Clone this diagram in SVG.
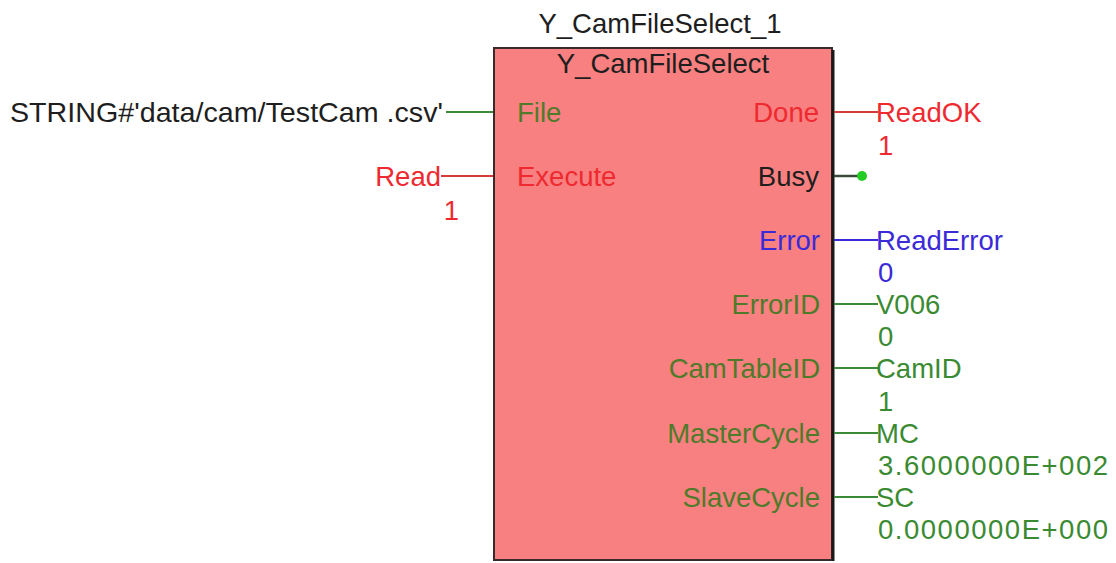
<svg xmlns="http://www.w3.org/2000/svg" width="1116" height="563" viewBox="0 0 1116 563">
<style>
text{font-family:"Liberation Sans",Arial,sans-serif;font-size:27.5px;}
.blk{fill:#1e1e1e}
.red{fill:#ee2a30}
.grn{fill:#3a8a32}
.gin{fill:#4f7a2a}
.blu{fill:#3a2ad8}
.r{text-anchor:end}
.lr{stroke:#d83a3a;stroke-width:2}
.lg{stroke:#3a8a3a;stroke-width:2}
.lb{stroke:#3a2ad8;stroke-width:2}
.lk{stroke:#3a4a3a;stroke-width:2.5}
</style>
<rect width="1116" height="563" fill="#fff"/>
<g id="block">
<text class="blk" x="660" y="33" text-anchor="middle">Y_CamFileSelect_1</text>
<rect x="494" y="48" width="338" height="512" fill="#f98080" stroke="#3a2a2a" stroke-width="2"/>
<line x1="833" y1="50" x2="833" y2="561" stroke="#1a1a1a" stroke-width="3"/>
<text class="blk" x="663" y="73" text-anchor="middle">Y_CamFileSelect</text>
<text class="gin" x="517" y="122">File</text>
<text class="red" x="517" y="186">Execute</text>
<text class="red r" x="819" y="122">Done</text>
<text class="blk r" x="819" y="186">Busy</text>
<text class="blu r" x="820" y="250">Error</text>
<text class="gin r" x="820" y="314">ErrorID</text>
<text class="gin r" x="820" y="378">CamTableID</text>
<text class="gin r" x="820" y="443">MasterCycle</text>
<text class="gin r" x="820" y="507">SlaveCycle</text>
</g>
<g id="connectors">
<line class="lg" x1="446" y1="112" x2="493" y2="112"/>
<line class="lr" x1="441" y1="176" x2="493" y2="176"/>
<line class="lr" x1="834" y1="112" x2="878" y2="112"/>
<line class="lk" x1="834" y1="176" x2="862" y2="176"/>
<circle cx="862" cy="176" r="5" fill="#22cc22"/>
<line class="lb" x1="834" y1="240" x2="878" y2="240"/>
<line class="lg" x1="834" y1="304" x2="878" y2="304"/>
<line class="lg" x1="834" y1="368" x2="878" y2="368"/>
<line class="lg" x1="834" y1="433" x2="878" y2="433"/>
<line class="lg" x1="834" y1="497" x2="878" y2="497"/>
</g>
<g id="inputs">
<text class="blk" x="10" y="122" textLength="433" lengthAdjust="spacingAndGlyphs">STRING#'data/cam/TestCam .csv'</text>
<text class="red r" x="441" y="186">Read</text>
<text class="red r" x="459" y="220">1</text>
</g>
<g id="outputs">
<text class="red" x="876" y="122">ReadOK</text>
<text class="red" x="878" y="155">1</text>
<text class="blu" x="876" y="250">ReadError</text>
<text class="blu" x="878" y="282">0</text>
<text class="grn" x="876" y="314">V006</text>
<text class="grn" x="878" y="346">0</text>
<text class="grn" x="876" y="378">CamID</text>
<text class="grn" x="878" y="411">1</text>
<text class="grn" x="876" y="443">MC</text>
<text class="grn" x="878" y="475" textLength="230" lengthAdjust="spacing">3.6000000E+002</text>
<text class="grn" x="876" y="507">SC</text>
<text class="grn" x="878" y="539" textLength="230" lengthAdjust="spacing">0.0000000E+000</text>
</g>
</svg>
